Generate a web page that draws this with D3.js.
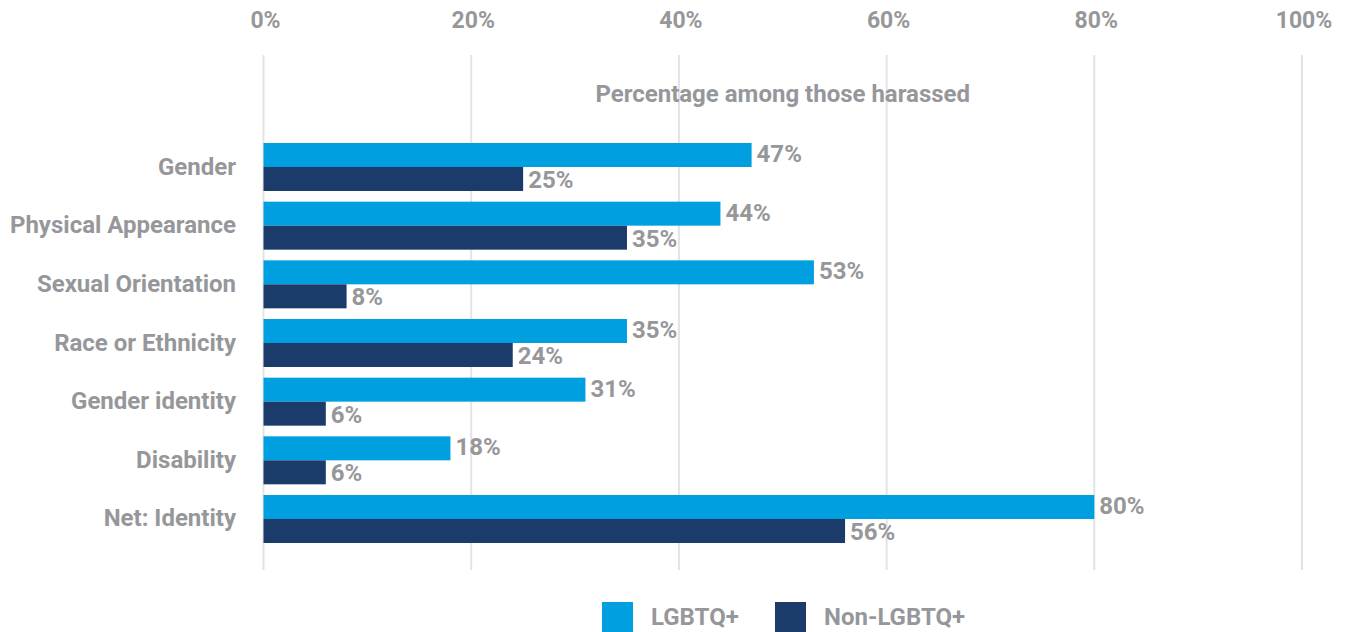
<!DOCTYPE html>
<html><head><meta charset="utf-8">
<script src="https://cdn.jsdelivr.net/npm/d3@7"></script>
<style>
html,body{margin:0;padding:0;background:#fff;}
text{font-family:Roboto,"Open Sans",sans-serif;font-weight:700;fill:#96979a;}
</style></head><body>
<svg id="c" width="1348" height="632"></svg>
<script>
const categories = ["Gender","Physical Appearance","Sexual Orientation","Race or Ethnicity","Gender identity","Disability","Net: Identity"];
const seriesNames = ["LGBTQ+","Non-LGBTQ+"];
const lgbtq = [47,44,53,35,31,18,80];
const nonLgbtq = [25,35,8,24,6,6,56];
const ticks = [0,20,40,60,80,100];
const colors = ["#009FDF","#1B3C6B"];
const title = "Percentage among those harassed";

const svg = d3.select("#c");
const x = d3.scaleLinear().domain([0,100]).range([263.5,1302]);
const y0 = d3.scaleBand().domain(categories).range([137.67,548.33]).paddingInner(0.182).paddingOuter(0.091);
const y1 = d3.scaleBand().domain(seriesNames).range([0,y0.bandwidth()]);
const labelShift = {"LGBTQ+":7,"Non-LGBTQ+":9};

// gridlines
svg.append("g").selectAll("line").data(ticks).join("line")
  .attr("x1",d=>x(d)).attr("x2",d=>x(d)).attr("y1",55).attr("y2",570)
  .attr("stroke","#e3e3e3").attr("stroke-width",2);

// top axis labels
svg.append("g").selectAll("text").data(ticks).join("text")
  .attr("x",d=>x(d)+2).attr("y",27.5).attr("text-anchor","middle")
  .style("font-size","23px").text(d=>d+"%");

svg.append("text").attr("x",x(50)).attr("y",102).attr("text-anchor","middle")
  .style("font-size","24px").text(title);

const data = categories.map((c,i)=>({cat:c, vals:[{s:seriesNames[0],v:lgbtq[i],c:colors[0]},{s:seriesNames[1],v:nonLgbtq[i],c:colors[1]}]}));

const g = svg.append("g").selectAll("g").data(data).join("g")
  .attr("transform",d=>`translate(0,${y0(d.cat)})`);
g.selectAll("rect").data(d=>d.vals).join("rect")
  .attr("x",x(0)).attr("y",d=>y1(d.s)).attr("width",d=>x(d.v)-x(0)).attr("height",y1.bandwidth())
  .attr("fill",d=>d.c);
g.selectAll("text.v").data(d=>d.vals).join("text").attr("class","v")
  .attr("x",d=>x(d.v)+5).attr("y",d=>y1(d.s)+y1.bandwidth()/2+labelShift[d.s])
  .style("font-size","24px").text(d=>d.v+"%");

svg.append("g").selectAll("text").data(categories).join("text")
  .attr("x",236).attr("y",d=>y0(d)+y0.bandwidth()/2+7.5).attr("text-anchor","end")
  .style("font-size","24px").text(d=>d);

// legend
const leg = svg.append("g").selectAll("g").data(seriesNames).join("g")
  .attr("transform",(d,i)=>`translate(${[602,775][i]},602)`);
leg.append("rect").attr("width",31).attr("height",30).attr("fill",(d,i)=>colors[i]);
leg.append("text").attr("x",49).attr("y",23).style("font-size","24px").text(d=>d);
</script></body></html>
